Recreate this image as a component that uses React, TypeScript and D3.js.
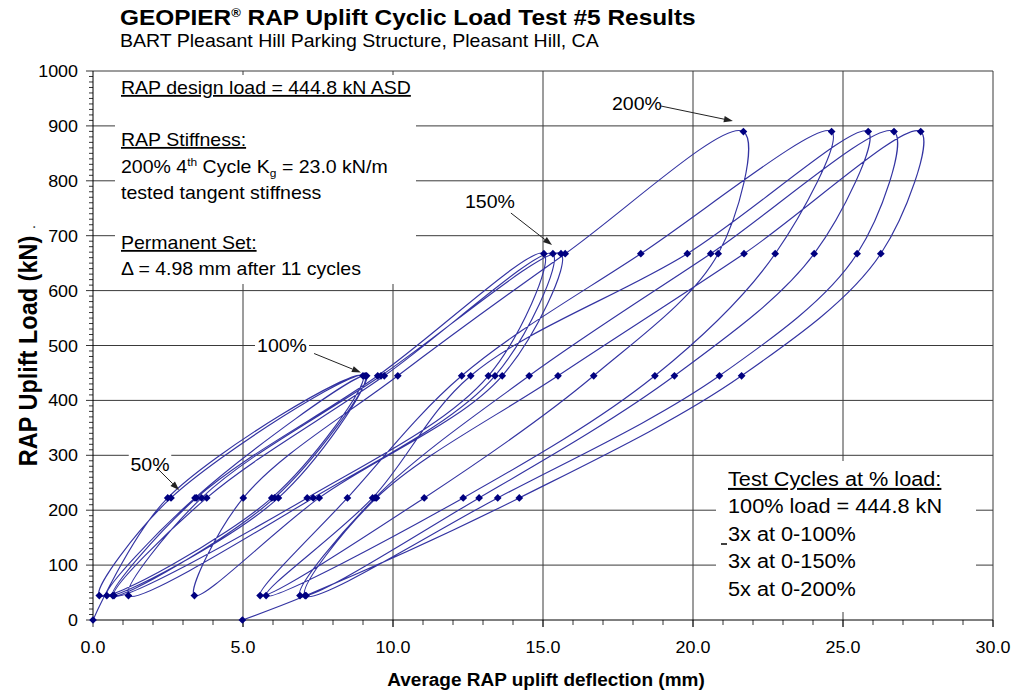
import React from "react";
import * as d3 from "d3";

// readings in test order: 3 cycles to 100 %, 3 to 150 %, 5 to 200 % (mm / kN)
const deflection = [
  0, 2.49, 9.0, 5.96, 0.21, 2.6, 9.07, 6.18, 0.46, 3.4, 9.12, 6.05, 0.66,
  3.45, 9.49, 15.03, 13.18, 7.14, 0.7, 3.79, 9.71, 15.33, 13.4, 7.34, 1.18,
  3.62, 9.6, 15.6, 13.64, 7.54, 3.38,
  5.01, 10.16, 15.74, 21.68, 20.84, 16.69, 11.04, 5.57,
  8.48, 12.29, 18.26, 24.62, 22.74, 18.73, 12.34, 5.77,
  9.32, 12.59, 19.81, 25.84, 24.04, 19.38, 12.87, 6.9,
  9.4, 14.54, 20.59, 26.7, 25.47, 20.88, 13.49, 7.07,
  9.45, 15.5, 21.7, 27.59, 26.26, 21.62, 14.21, 7.1, 4.98,
];
const load = [
  0, 222.4, 444.8, 222.4, 44.5, 222.4, 444.8, 222.4, 44.5, 222.4, 444.8, 222.4, 44.5,
  222.4, 444.8, 667.2, 444.8, 222.4, 44.5, 222.4, 444.8, 667.2, 444.8, 222.4, 44.5,
  222.4, 444.8, 667.2, 444.8, 222.4, 44.5,
  222.4, 444.8, 667.2, 889.6, 667.2, 444.8, 222.4, 44.5,
  222.4, 444.8, 667.2, 889.6, 667.2, 444.8, 222.4, 44.5,
  222.4, 444.8, 667.2, 889.6, 667.2, 444.8, 222.4, 44.5,
  222.4, 444.8, 667.2, 889.6, 667.2, 444.8, 222.4, 44.5,
  222.4, 444.8, 667.2, 889.6, 667.2, 444.8, 222.4, 44.5, 0,
];

const yTicks = d3.range(0, 1001, 100);
const xTicks = d3.range(0, 31, 5);
const xMinor = d3.range(0, 31, 1);
const yMinor = d3.range(0, 1001, 10);

const calloutText = ["200%", "150%", "100%", "50%"];
// label centre, arrow start, arrow tip (data units)
const calloutPos = [
  { lx: 18.13, ly: 941.7, fx: 18.93, fy: 936.2, tx: 21.33, ty: 908.9 },
  { lx: 13.23, ly: 763.2, fx: 13.93, fy: 741.3, tx: 15.3, ty: 682.9 },
  { lx: 6.3, ly: 500.9, fx: 7.37, fy: 485.4, tx: 8.93, ty: 450.8 },
  { lx: 1.9, ly: 284.2, fx: 2.13, fy: 276.9, tx: 2.87, ty: 236.8 },
];

const cycleNotes = ["100% load = 444.8 kN", "3x at 0-100%", "3x at 0-150%", "5x at 0-200%"];

const FONT = "'Liberation Sans', Arial, Helvetica, sans-serif";
const W = 1014;
const H = 694;
const M = { left: 93, right: 993, top: 71, bottom: 620 };

function T({ x, y, size, bold, anchor, sx = 1.085, deco, children }: any) {
  return (
    <text
      transform={`translate(${x},${y}) scale(${sx},1)`}
      fontSize={size}
      fontWeight={bold ? "bold" : "normal"}
      textAnchor={anchor || "start"}
      fontFamily={FONT}
      textDecoration={deco}
      fill="#000"
    >
      {children}
    </text>
  );
}

export default function App() {
  const x = d3.scaleLinear().domain([0, 30]).range([M.left, M.right]);
  const y = d3.scaleLinear().domain([0, 1000]).range([M.bottom, M.top]);

  const pts: [number, number][] = deflection.map((d, i) => [x(d), y(load[i])]);
  const curve = d3.line().curve(d3.curveCatmullRom.alpha(0.5))(pts) || "";
  const marker = d3.symbol(d3.symbolSquare, 30)() || "";

  const gridColor = "#3a3a3a";

  return (
    <svg
      width={W}
      height={H}
      style={{ position: "absolute", left: 0, top: 0, background: "#fff" }}
    >
      <rect x={0} y={0} width={W} height={H} fill="#fff" />

      {/* title */}
      <T x={120} y={25} size={22.5} bold>
        GEOPIER
        <tspan fontSize={12} dy={-8}>®</tspan>
        <tspan dy={8}> RAP Uplift Cyclic Load Test #5 Results</tspan>
      </T>
      <T x={120} y={47} size={18}>BART Pleasant Hill Parking Structure, Pleasant Hill, CA</T>

      {/* grid */}
      {yTicks.slice(1, -1).map((v) => (
        <line key={"gy" + v} x1={M.left} x2={M.right} y1={y(v)} y2={y(v)} stroke={gridColor} strokeWidth={1} />
      ))}
      {xTicks.slice(1, -1).map((v) => (
        <line key={"gx" + v} x1={x(v)} x2={x(v)} y1={M.top} y2={M.bottom + 7} stroke={gridColor} strokeWidth={1} />
      ))}
      {/* plot border */}
      <line x1={M.left} x2={M.right} y1={M.top} y2={M.top} stroke={gridColor} />
      <line x1={M.right} x2={M.right} y1={M.top} y2={M.bottom + 7} stroke={gridColor} />

      {/* text boxes hide the grid */}
      <rect x={115} y={75} width={301} height={209} fill="#fff" />
      <rect x={716} y={461} width={260} height={151} fill="#fff" />

      {/* axes */}
      <line x1={M.left} x2={M.left} y1={M.top} y2={M.bottom} stroke="#000" />
      <line x1={M.left} x2={M.right} y1={M.bottom} y2={M.bottom} stroke="#000" />
      {yMinor.map((v) => (
        <line key={"ym" + v} x1={M.left - (v % 100 === 0 ? 7 : 4)} x2={M.left} y1={y(v)} y2={y(v)} stroke="#000" strokeWidth={0.8} />
      ))}
      {xMinor.map((v) => (
        <line key={"xm" + v} x1={x(v)} x2={x(v)} y1={M.bottom} y2={M.bottom + (v % 5 === 0 ? 7 : 5)} stroke="#000" strokeWidth={0.8} />
      ))}
      {yTicks.map((v) => (
        <T key={"yl" + v} x={78} y={y(v) + 6} size={16.5} anchor="end">{v}</T>
      ))}
      {xTicks.map((v) => (
        <T key={"xl" + v} x={x(v)} y={653} size={16.5} anchor="middle">{v.toFixed(1)}</T>
      ))}

      {/* axis titles */}
      <T x={546} y={686} size={17.5} bold anchor="middle">Average RAP uplift deflection (mm)</T>
      <text
        transform="translate(37,351) scale(1.085,1) rotate(-90)"
        fontSize={23.5}
        fontWeight="bold"
        textAnchor="middle"
        fontFamily={FONT}
      >
        RAP Uplift Load (kN)
      </text>
      <text transform="translate(35,229) rotate(-90)" fontSize={14} fontFamily={FONT}>.</text>

      {/* data */}
      <path d={curve} fill="none" stroke="#3434a2" strokeWidth={1.15} />
      {pts.map((p, i) => (
        <path key={"m" + i} d={marker} transform={`translate(${p[0]},${p[1]}) rotate(45)`} fill="#000080" />
      ))}

      {/* callouts */}
      {calloutText.map((t, i) => {
        const c = calloutPos[i];
        const fx = x(c.fx), fy = y(c.fy), tx = x(c.tx), ty = y(c.ty);
        const a = Math.atan2(ty - fy, tx - fx);
        const hl = 9, hw = 3.2;
        const bx = tx - hl * Math.cos(a), by = ty - hl * Math.sin(a);
        const head = `${tx},${ty} ${bx + hw * Math.sin(a)},${by - hw * Math.cos(a)} ${bx - hw * Math.sin(a)},${by + hw * Math.cos(a)}`;
        const w = t.length * 11.5 + 8;
        return (
          <g key={"c" + i}>
            <rect x={x(c.lx) - w / 2} y={y(c.ly) - 10} width={w} height={20} fill="#fff" />
            <T x={x(c.lx)} y={y(c.ly) + 7} size={18} anchor="middle">{t}</T>
            <line x1={fx} y1={fy} x2={bx} y2={by} stroke="#222" strokeWidth={1} />
            <polygon points={head} fill="#222" />
          </g>
        );
      })}

      {/* notes */}
      <T x={121} y={94} size={18} deco="underline">RAP design load = 444.8 kN ASD</T>
      <T x={121} y={146} size={18} deco="underline">RAP Stiffness:</T>
      <T x={121} y={173} size={18}>
        200% 4<tspan fontSize={11} dy={-7}>th</tspan>
        <tspan dy={7}> Cycle K</tspan>
        <tspan fontSize={11} dy={4}>g</tspan>
        <tspan dy={-4}> = 23.0 kN/m</tspan>
      </T>
      <T x={121} y={199} size={18}>tested tangent stiffness</T>
      <T x={121} y={249} size={18} deco="underline">Permanent Set:</T>
      <T x={121} y={275} size={18}>Δ = 4.98 mm after 11 cycles</T>

      <T x={728} y={486} size={20} deco="underline">Test Cycles at % load:</T>
      {cycleNotes.map((t, i) => (
        <T key={"n" + i} x={728} y={513 + i * 27.5} size={20}>{t}</T>
      ))}
      <line x1={721} x2={727} y1={544} y2={544} stroke="#000" strokeWidth={1.5} />
    </svg>
  );
}
